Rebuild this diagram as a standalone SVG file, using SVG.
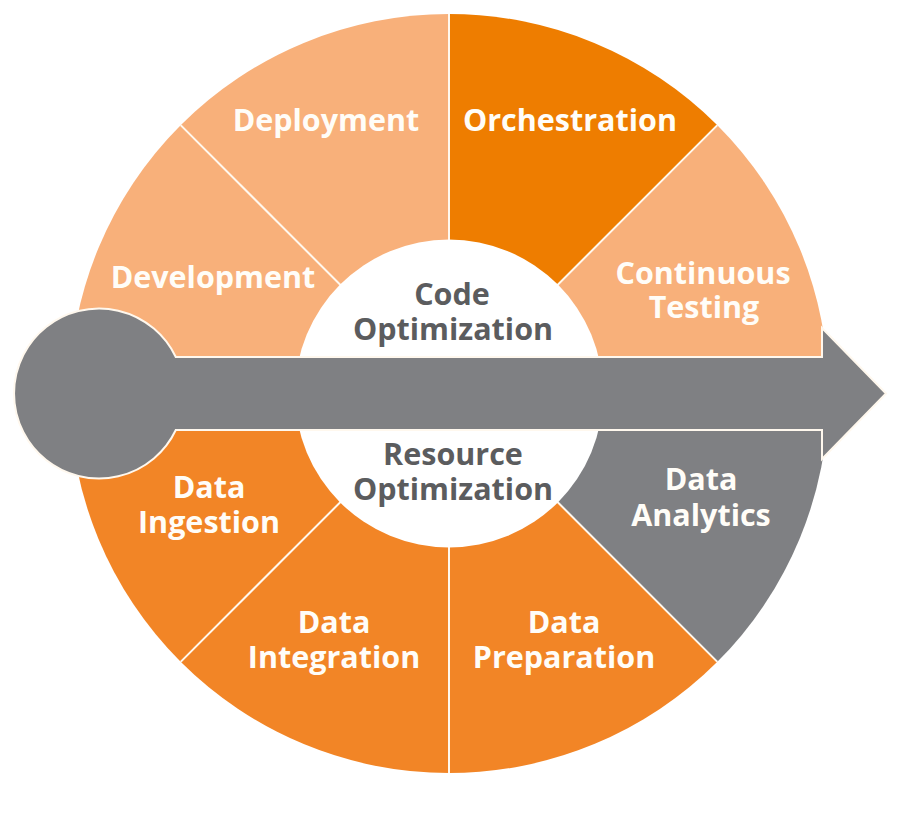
<svg xmlns="http://www.w3.org/2000/svg" width="900" height="818" viewBox="0 0 900 818">
  <style>
    .lbl { font-family: "Open Sans", "Liberation Sans", sans-serif; font-weight: 700; font-size: 30.5px; text-anchor: middle; fill: #FFFDF8; }
    .ctr { font-family: "Open Sans", "Liberation Sans", sans-serif; font-weight: 700; font-size: 30.5px; text-anchor: middle; fill: #5B5C5E; }
    .light { fill: #F8B07A; }
    .dark { fill: #EE7D00; }
    .mid { fill: #F28526; }
    .gray { fill: #7F8083; }
    .sep { stroke: #FFF8EE; stroke-width: 2; fill: none; }
  </style>
  <rect width="900" height="818" fill="#FFFFFF"/>

  <g id="continuous-testing">
    <path class="light" d="M449,393.5 L828.5,393.5 A379.5,379.5 0 0 0 717.35,125.15 Z"/>
    <text class="lbl" x="703" y="284"><tspan x="703">Continuous</tspan><tspan x="704" dy="34">Testing</tspan></text>
  </g>
  <g id="orchestration">
    <path class="dark" d="M449,393.5 L717.35,125.15 A379.5,379.5 0 0 0 449,14 Z"/>
    <text class="lbl" x="570" y="131">Orchestration</text>
  </g>
  <g id="deployment">
    <path class="light" d="M449,393.5 L449,14 A379.5,379.5 0 0 0 180.65,125.15 Z"/>
    <text class="lbl" x="326" y="131">Deployment</text>
  </g>
  <g id="development">
    <path class="light" d="M449,393.5 L180.65,125.15 A379.5,379.5 0 0 0 69.5,393.5 Z"/>
    <text class="lbl" x="213" y="288">Development</text>
  </g>
  <g id="data-ingestion">
    <path class="mid" d="M449,393.5 L69.5,393.5 A379.5,379.5 0 0 0 180.65,661.85 Z"/>
    <text class="lbl" x="209" y="498"><tspan x="209">Data</tspan><tspan x="209" dy="35">Ingestion</tspan></text>
  </g>
  <g id="data-integration">
    <path class="mid" d="M449,393.5 L180.65,661.85 A379.5,379.5 0 0 0 449,773 Z"/>
    <text class="lbl" x="334" y="633"><tspan x="334">Data</tspan><tspan x="334" dy="35">Integration</tspan></text>
  </g>
  <g id="data-preparation">
    <path class="mid" d="M449,393.5 L449,773 A379.5,379.5 0 0 0 717.35,661.85 Z"/>
    <text class="lbl" x="564" y="633"><tspan x="564">Data</tspan><tspan x="564" dy="35">Preparation</tspan></text>
  </g>
  <g id="data-analytics">
    <path class="gray" d="M449,393.5 L717.35,661.85 A379.5,379.5 0 0 0 828.5,393.5 Z"/>
  </g>

  <g id="separators">
    <line class="sep" x1="449" y1="393.5" x2="717.35" y2="125.15"/>
    <line class="sep" x1="449" y1="393.5" x2="449" y2="14"/>
    <line class="sep" x1="449" y1="393.5" x2="180.65" y2="125.15"/>
    <line class="sep" x1="449" y1="393.5" x2="180.65" y2="661.85"/>
    <line class="sep" x1="449" y1="393.5" x2="449" y2="773"/>
    <line class="sep" x1="449" y1="393.5" x2="717.35" y2="661.85"/>
  </g>

  <g id="center">
    <circle cx="449" cy="393.5" r="154" fill="#FFFFFF"/>
  </g>

  <g id="connectors">
    <path class="gray" stroke="#FFF8EE" stroke-width="2" stroke-linejoin="miter" d="M175.8,357 H822 V328 L886,393.5 L822,459 V430 H175.8 A85,85 0 1 1 175.8,357 Z"/>
  </g>

  <g id="labels-center">
    <text class="ctr" x="452" y="305"><tspan x="452">Code</tspan><tspan x="453" dy="35">Optimization</tspan></text>
    <text class="ctr" x="453" y="465"><tspan x="453">Resource</tspan><tspan x="453" dy="35">Optimization</tspan></text>
  </g>
  <g id="data-analytics-label">
    <text class="lbl" x="701" y="490"><tspan x="701">Data</tspan><tspan x="701" dy="36">Analytics</tspan></text>
  </g>
</svg>
